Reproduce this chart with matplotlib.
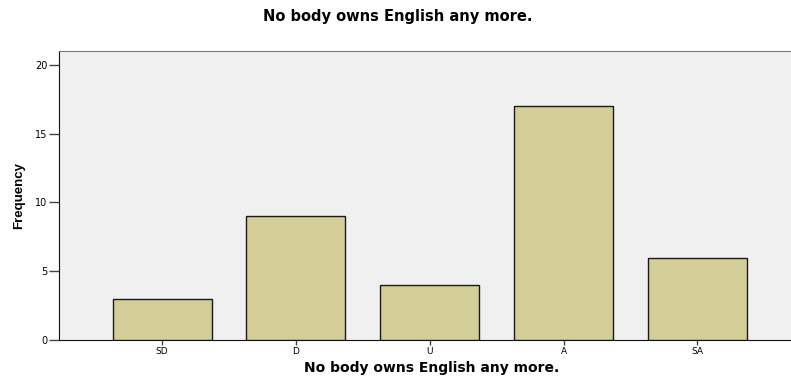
import matplotlib
matplotlib.use("Agg")
import matplotlib.pyplot as plt

# Data
categories = ['SD', 'D', 'U', 'A', 'SA']
frequency = [3, 9, 4, 17, 6]
y_ticks = [0, 5, 10, 15, 20]

title = 'No body owns English any more.'

plt.rcParams['font.family'] = ['DejaVu Sans']

fig = plt.figure(figsize=(7.91, 3.77), dpi=100)
ax = fig.add_axes([59 / 791, 37 / 377, 1 - 59 / 791, 289.3 / 377])
ax.set_facecolor('#f0f0f0')

x = list(range(len(categories)))
ax.bar(x, frequency, width=0.74, color='#d3ce98', edgecolor='#1a1a1a', linewidth=1.0, zorder=3)

ax.set_xlim(-0.77, 4.70)
ax.set_ylim(0, 21.04)
ax.set_xticks(x)
ax.set_xticklabels(categories, fontsize=6.5)
ax.set_yticks(y_ticks)
ax.set_yticklabels([str(v) for v in y_ticks], fontsize=7)
ax.tick_params(axis='x', length=3.5, width=1, color='#444444', pad=1.5)
ax.tick_params(axis='y', length=7, width=1, color='#444444', pad=1.5)

ax.spines['right'].set_visible(False)
ax.spines['top'].set_color('#777777')
ax.spines['left'].set_color('#111111')
ax.spines['bottom'].set_color('#111111')

ax.set_xlabel(title, fontsize=10, fontweight='bold', va='baseline')
ax.xaxis.set_label_coords(432 / 791, 1 - 371.7 / 377, transform=fig.transFigure)
ax.set_ylabel('Frequency', fontsize=9.5,
              family=['Liberation Sans', 'DejaVu Sans'],
              fontweight='bold', labelpad=7)
fig.text(398 / 791, 1 - 20.7 / 377, title, ha='center', va='baseline',
         fontsize=10.5, fontweight='bold')

fig.savefig('out.png', dpi=100)
